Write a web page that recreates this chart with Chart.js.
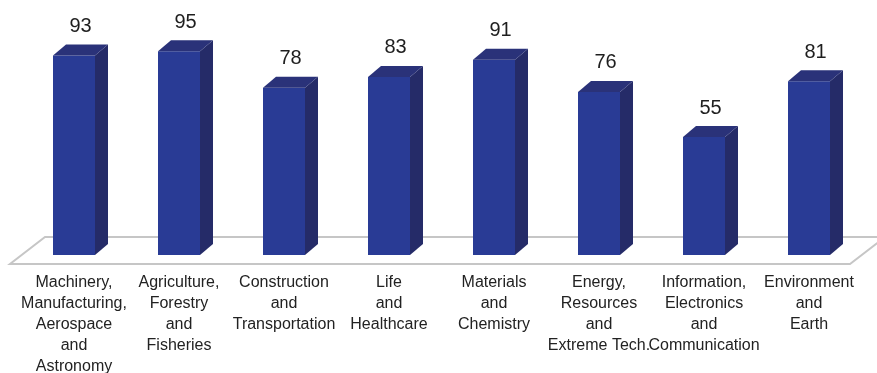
<!DOCTYPE html>
<html>
<head>
    <title>Fields</title>
    <script src="https://cdn.jsdelivr.net/npm/chart.js"></script>
    <style>
        body { margin: 0; padding: 0; background: #fff; }
        #chartBox { width: 877px; height: 373px; }
    </style>
</head>
<body>
<div id="chartBox"><canvas id="barChart"></canvas></div>
<script>
    var fieldLabels = [
        ['Machinery,', 'Manufacturing,', 'Aerospace', 'and', 'Astronomy'],
        ['Agriculture,', 'Forestry', 'and', 'Fisheries'],
        ['Construction', 'and', 'Transportation'],
        ['Life', 'and', 'Healthcare'],
        ['Materials', 'and', 'Chemistry'],
        ['Energy,', 'Resources', 'and', 'Extreme Tech.'],
        ['Information,', 'Electronics', 'and', 'Communication'],
        ['Environment', 'and', 'Earth']
    ];
    var fieldValues = [93, 95, 78, 83, 91, 76, 55, 81];

    var DX = 13, DY = -11; // depth offset for the 3D faces
    var FONT = '"Liberation Sans", Arial, sans-serif';

    // floor plane under the bars
    var floorPlugin = {
        id: 'floor',
        beforeDatasetsDraw: function (chart) {
            var ctx = chart.ctx, a = chart.chartArea;
            var front = a.bottom + 9, back = a.bottom - 18;
            ctx.save();
            ctx.strokeStyle = '#c6c6c6';
            ctx.lineWidth = 2;
            ctx.beginPath();
            ctx.moveTo(10, front);
            ctx.lineTo(850, front);
            ctx.lineTo(885, back);
            ctx.lineTo(45, back);
            ctx.closePath();
            ctx.stroke();
            ctx.restore();
        }
    };

    // side and top faces plus value labels
    var boxPlugin = {
        id: 'box3d',
        afterDatasetsDraw: function (chart) {
            var ctx = chart.ctx;
            var meta = chart.getDatasetMeta(0);
            ctx.save();
            meta.data.forEach(function (bar, i) {
                var p = bar.getProps(['x', 'y', 'base', 'width'], true);
                var l = p.x - p.width / 2, r = p.x + p.width / 2;
                // side face
                ctx.fillStyle = '#252b68';
                ctx.beginPath();
                ctx.moveTo(r, p.y);
                ctx.lineTo(r + DX, p.y + DY);
                ctx.lineTo(r + DX, p.base + DY);
                ctx.lineTo(r, p.base);
                ctx.closePath();
                ctx.fill();
                // top face
                ctx.fillStyle = '#2a3279';
                ctx.beginPath();
                ctx.moveTo(l, p.y);
                ctx.lineTo(r, p.y);
                ctx.lineTo(r + DX, p.y + DY);
                ctx.lineTo(l + DX, p.y + DY);
                ctx.closePath();
                ctx.fill();
                // value
                ctx.fillStyle = '#1e1e1e';
                ctx.font = '20px ' + FONT;
                ctx.textAlign = 'center';
                ctx.textBaseline = 'middle';
                ctx.fillText(fieldValues[i], p.x + DX / 2, p.y - 29);
            });
            ctx.restore();
        }
    };

    new Chart(document.getElementById('barChart'), {
        type: 'bar',
        data: {
            labels: fieldLabels,
            datasets: [{
                data: fieldValues,
                backgroundColor: '#293b95',
                borderWidth: 0,
                barPercentage: 0.4,
                categoryPercentage: 1
            }]
        },
        options: {
            responsive: true,
            maintainAspectRatio: false,
            animation: false,
            layout: { padding: { left: 21.5, right: 15.5, top: 40.5, bottom: 0 } },
            plugins: { legend: { display: false }, tooltip: { enabled: false } },
            scales: {
                x: {
                    grid: { display: false, drawTicks: false },
                    border: { display: false },
                    ticks: {
                        color: '#222',
                        padding: 17,
                        maxRotation: 0,
                        autoSkip: false,
                        font: { family: FONT, size: 16, lineHeight: '21px' }
                    },
                    afterFit: function (scale) { scale.height = 118; }
                },
                y: {
                    display: false,
                    min: 0,
                    max: 100
                }
            }
        },
        plugins: [floorPlugin, boxPlugin]
    });
</script>
</body>
</html>
